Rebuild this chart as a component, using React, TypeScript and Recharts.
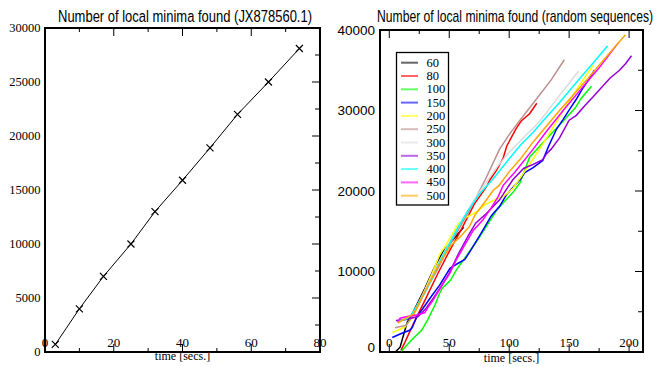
import React from "react";
import { LineChart, Line, XAxis, YAxis, ReferenceArea } from "recharts";

// JX878560.1: elapsed time [s] vs. number of local minima found
const jxTime = [3, 10, 17, 25, 32, 40, 48, 56, 65, 74];
const jxMinima = [700, 4000, 7000, 10000, 13000, 15900, 18900, 22000, 25000, 28100];

// random sequences, one run per sequence length, as [time, minima]
const run60 = [[5, 0], [9, 600], [13, 2700], [15, 3700], [20, 5000], [30, 8000], [38, 10600], [45, 12500], [53, 13900], [60, 15150], [62, 15500]];
const run80 = [[9.7, 200], [13, 1200], [17, 2500], [23, 4400], [30, 6500], [40, 9600], [50, 12500], [60, 15200], [71, 18400], [81, 20500], [84, 21400], [89.5, 22600], [95, 24100], [98, 25600], [106, 27800], [110, 28700], [117, 29600], [123, 30900]];
const run100 = [[10, 100], [18.6, 1500], [27, 2700], [32, 4000], [38, 5800], [42, 7300], [44, 7900], [51, 8900], [56, 10200], [66, 12300], [74, 14000], [81, 15600], [89.5, 17600], [96, 18700], [103, 19800], [109, 21000], [117, 24200], [130, 26300], [142, 28200], [155, 30300], [160, 31500], [168.6, 33000]];
const run150 = [[2.5, 1800], [10, 2300], [17, 2700], [19, 3000], [23, 4400], [28, 5400], [35, 6900], [42, 8300], [50.6, 10400], [56, 10900], [63, 11500], [67, 12400], [76, 14600], [85, 16900], [92, 18100], [98, 19600], [109, 21400], [113, 22300], [120, 22900], [128, 23800], [133, 25600], [139.5, 27700], [145, 28900], [151, 30300], [156, 31400], [161.5, 32800], [167, 34000], [171, 35000]];
const run200 = [[2.5, 2400], [13, 3100], [20, 4400], [25, 6000], [30, 7800], [37, 10200], [42, 12100], [48, 13500], [57.5, 15900], [65, 16800], [72.8, 17400], [80, 18300], [89.5, 19000], [95, 19300], [103, 20300], [110, 21800], [121, 24200], [133, 27000], [145, 30000], [158, 33000], [170, 35600]];
const run250 = [[4.7, 3000], [14, 3300], [19, 4400], [25, 6000], [30, 7600], [40, 10200], [50, 13200], [60, 15800], [70, 18500], [80, 21400], [92, 25200], [100, 27000], [109, 28800], [120, 30900], [135, 33800], [146, 36300]];
const run300 = [[6, 3800], [14, 4100], [20, 4800], [30, 7800], [40, 10800], [50, 13600], [60, 16200], [70, 18700], [80, 20900], [90, 23000], [100, 24800], [113, 26800], [124, 28400], [140, 31500], [158, 34900]];
const run350 = [[5.5, 3900], [13, 4000], [24, 4400], [30, 5300], [36.7, 6700], [43, 8100], [49, 9500], [58, 12300], [66, 14500], [72, 16000], [81, 17200], [92, 18900], [103, 21400], [112, 22800], [120, 23300], [128, 23900], [131, 24600], [135, 25200], [142, 26600], [150, 28800], [156, 29400], [163, 30600], [170, 31700], [184, 34000], [192, 35000], [197, 35800], [202, 36800]];
const run400 = [[7, 3800], [14, 4100], [18.6, 4600], [24, 6000], [29.7, 7300], [36, 9200], [42, 11200], [50, 13400], [56, 15100], [65, 17400], [75, 19600], [86, 21400], [100, 24000], [110, 25800], [120, 27300], [130, 29000], [142, 31000], [159, 34000], [170, 35900], [182, 38000]];
const run450 = [[7, 3700], [9, 4200], [15, 4400], [22.8, 4600], [29.7, 4900], [32.5, 5600], [35, 6100], [40, 7300], [46, 8800], [50.6, 9800], [56, 11500], [63, 13300], [70, 15100], [78, 16400], [85, 17900], [90.8, 19300], [95, 20700], [105, 22400], [120, 25200], [131, 27400], [145, 30000], [159, 32500], [175, 35300], [191, 38400]];
const run500 = [[7, 3600], [14, 4200], [20, 4700], [25, 6100], [30, 7600], [40, 10500], [50.6, 13100], [59, 14300], [67, 15600], [71.4, 17000], [80, 18700], [86.7, 20100], [91, 20600], [100.6, 22500], [109, 23900], [120, 26100], [142, 30000], [164.5, 33800], [180, 36500], [197, 39400]];

const seqLengths = ["60", "80", "100", "150", "200", "250", "300", "350", "400", "450", "500"];
const seqColors = ["#000000", "#ff0000", "#00ff00", "#0000ff", "#ffff00", "#bc8f8f", "#dcdcdc", "#9400d3", "#00ffff", "#ff00ff", "#ffa500"];
const seqRuns = [run60, run80, run100, run150, run200, run250, run300, run350, run400, run450, run500];

const leftXTicks = [0, 10, 20, 30, 40, 50, 60, 70, 80];
const leftYTicks = [0, 2500, 5000, 7500, 10000, 12500, 15000, 17500, 20000, 22500, 25000, 27500, 30000];
const rightXTicks = [0, 25, 50, 75, 100, 125, 150, 175, 200];
const rightYTicks = [0, 5000, 10000, 15000, 20000, 25000, 30000, 35000, 40000];

const SERIF = "'Liberation Serif', 'DejaVu Serif', serif";
const SANS = "'Liberation Sans', Arial, sans-serif";

const H = 367;

// inward ticks on the bottom and top edges, labels sit just inside the frame
function xTick(step: number, plotTop: number, fontSize: number) {
  return (p: any) => {
    const v = p.payload.value;
    const major = v % step === 0;
    const len = major ? 8 : 4;
    return (
      <g>
        <line x1={p.x} x2={p.x} y1={p.y} y2={p.y - len} stroke="#000" strokeWidth={1} />
        <line x1={p.x} x2={p.x} y1={plotTop} y2={plotTop + len} stroke="#000" strokeWidth={1} />
        {major && (
          <text x={p.x} y={p.y - 5} textAnchor="middle" fontFamily={SERIF} fontSize={fontSize} fill="#000">
            {v}
          </text>
        )}
      </g>
    );
  };
}

// labels on the left, inward ticks on the right edge only
function yTick(step: number, plotRight: number, font: string, fontSize: number, gap: number, zeroDy: number) {
  return (p: any) => {
    const v = p.payload.value;
    const major = v % step === 0;
    const len = major ? 8 : 5;
    return (
      <g>
        <line x1={plotRight} x2={plotRight - len} y1={p.y} y2={p.y} stroke="#000" strokeWidth={1} />
        {major && (
          <text
            x={p.x - gap}
            y={p.y + (v === 0 ? zeroDy : 0)}
            textAnchor="end"
            dominantBaseline="central"
            fontFamily={font}
            fontSize={fontSize}
            fill="#000"
          >
            {v}
          </text>
        )}
      </g>
    );
  };
}

function Cross(p: any) {
  const { cx, cy } = p;
  if (cx == null || cy == null) return null;
  const s = 3.5;
  return (
    <path
      key={p.index}
      d={`M${cx - s},${cy - s}L${cx + s},${cy + s}M${cx - s},${cy + s}L${cx + s},${cy - s}`}
      stroke="#000"
      strokeWidth={1.2}
      fill="none"
    />
  );
}

function JxChart() {
  const data = jxTime.map((t, i) => ({ t, n: jxMinima[i] }));
  return (
    <LineChart width={330} height={H} data={data} margin={{ top: 28, right: 10, bottom: 0, left: 5 }}>
      <XAxis
        dataKey="t"
        type="number"
        domain={[0, 80]}
        ticks={leftXTicks}
        interval={0}
        height={15}
        axisLine={false}
        tickLine={false}
        tickSize={0}
        tickMargin={0}
        tick={xTick(20, 28, 13)}
      />
      <YAxis
        type="number"
        domain={[0, 30000]}
        ticks={leftYTicks}
        interval={0}
        width={40}
        axisLine={false}
        tickLine={false}
        tickSize={0}
        tickMargin={0}
        tick={yTick(5000, 320, SERIF, 12.5, 4.5, 0)}
      />
      <ReferenceArea x1={0} x2={80} y1={0} y2={30000} fill="none" fillOpacity={0} stroke="#000" strokeWidth={2} />
      <Line dataKey="n" type="linear" stroke="#000" strokeWidth={1} dot={Cross} isAnimationActive={false} />
    </LineChart>
  );
}

function RandomChart() {
  return (
    <LineChart width={327} height={H} margin={{ top: 30, right: 14, bottom: 0, left: 5 }}>
      <XAxis
        dataKey="t"
        type="number"
        domain={[-7.75, 211.6]}
        allowDataOverflow
        ticks={rightXTicks}
        interval={0}
        height={15}
        axisLine={false}
        tickLine={false}
        tickSize={0}
        tickMargin={0}
        tick={xTick(50, 30, 13)}
      />
      <YAxis
        type="number"
        domain={[0, 40000]}
        ticks={rightYTicks}
        interval={0}
        width={45}
        axisLine={false}
        tickLine={false}
        tickSize={0}
        tickMargin={0}
        tick={yTick(10000, 313, SANS, 13.5, 5, -5)}
      />
      <ReferenceArea x1={-7.75} x2={211.6} y1={0} y2={40000} fill="none" fillOpacity={0} stroke="#000" strokeWidth={2} />
      {seqRuns.map((run, i) => (
        <Line
          key={seqLengths[i]}
          data={run.map(([t, v]) => ({ t, v }))}
          dataKey="v"
          type="linear"
          stroke={seqColors[i]}
          strokeWidth={1.5}
          dot={false}
          isAnimationActive={false}
        />
      ))}
    </LineChart>
  );
}

// narrow, tall title lettering: a plain sans face squeezed to a fixed width
function Title({ x, y, size, sx, width, children }: { x: number; y: number; size: number; sx: number; width: number; children: React.ReactNode }) {
  return (
    <text
      transform={`translate(${x},${y}) scale(${sx},1)`}
      fontFamily={SANS}
      fontSize={size}
      textLength={width / sx}
      lengthAdjust="spacingAndGlyphs"
      fill="#000"
    >
      {children}
    </text>
  );
}

function Overlay() {
  return (
    <svg width={657} height={H} style={{ position: "absolute", left: 0, top: 0, pointerEvents: "none" }}>
      <Title x={58} y={21.5} size={17} sx={0.76} width={254}>
        Number of local minima found (JX878560.1)
      </Title>
      <Title x={377} y={21.5} size={16} sx={0.74} width={276}>
        Number of local minima found (random sequences)
      </Title>
      <text x={182.5} y={359.5} textAnchor="middle" fontFamily={SERIF} fontSize={12} fill="#000">
        time [secs.]
      </text>
      <text x={511.5} y={361.5} textAnchor="middle" fontFamily={SERIF} fontSize={12} fill="#000">
        time [secs.]
      </text>
      <g>
        <rect x={396.5} y={52.5} width={52} height={152.5} fill="#fff" stroke="#000" strokeWidth={1.3} />
        {seqLengths.map((name, i) => {
          const y = 62.7 + i * 13.3;
          return (
            <g key={name}>
              <line x1={401} x2={418} y1={y} y2={y} stroke={seqColors[i]} strokeWidth={2} strokeOpacity={0.6} />
              <text x={426.5} y={y} dominantBaseline="central" fontFamily={SERIF} fontSize={12.5} fill="#000">
                {name}
              </text>
            </g>
          );
        })}
      </g>
    </svg>
  );
}

export default function App() {
  return (
    <div style={{ position: "absolute", left: 0, top: 0, width: 657, height: H, background: "#fff" }}>
      <div style={{ position: "absolute", left: 0, top: 0 }}>
        <JxChart />
      </div>
      <div style={{ position: "absolute", left: 330, top: 0 }}>
        <RandomChart />
      </div>
      <Overlay />
    </div>
  );
}
